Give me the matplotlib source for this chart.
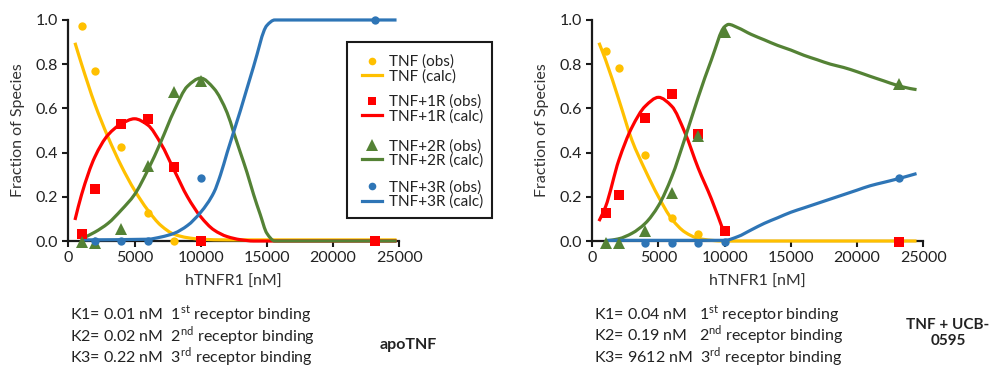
import numpy as np
import matplotlib
matplotlib.use("Agg")
import matplotlib.pyplot as plt
from matplotlib.patches import Rectangle, PathPatch
from matplotlib.path import Path
from matplotlib.lines import Line2D
from matplotlib.legend import Legend

plt.rcParams['font.family'] = ['Lato', 'DejaVu Sans']
plt.rcParams['mathtext.fontset'] = 'custom'
plt.rcParams['mathtext.rm'] = 'Lato'

# ---- observed points (hTNFR1 nM, fraction) ----
# apoTNF panel
apo_tnf_x = [1000, 2000, 4000, 6000, 8000]
apo_tnf_y = [0.974, 0.77, 0.425, 0.125, 0.0]
apo_1r_x = [1000, 2000, 4000, 6000, 8000, 10000, 23200]
apo_1r_y = [0.03, 0.235, 0.53, 0.55, 0.335, 0.0, 0.0]
apo_2r_x = [1000, 2000, 4000, 6000, 8000, 10000]
apo_2r_y = [-0.005, -0.01, 0.055, 0.34, 0.675, 0.725]
apo_3r_x = [2000, 4000, 6000, 10000, 23200]
apo_3r_y = [0.0, 0.0, 0.0, 0.285, 1.0]

# TNF + UCB-0595 panel
ucb_tnf_x = [1000, 2000, 4000, 6000, 8000]
ucb_tnf_y = [0.86, 0.785, 0.39, 0.105, 0.03]
ucb_1r_x = [1000, 2000, 4000, 6000, 8000, 10000, 23200]
ucb_1r_y = [0.125, 0.21, 0.555, 0.665, 0.485, 0.045, -0.005]
ucb_2r_x = [1000, 2000, 4000, 6000, 8000, 10000, 23200]
ucb_2r_y = [-0.01, -0.01, 0.045, 0.215, 0.475, 0.945, 0.71]
ucb_3r_x = [4000, 6000, 8000, 10000, 23200]
ucb_3r_y = [-0.01, -0.01, -0.01, -0.005, 0.285]

# ---- calculated curves ----
apo_tnf_cx = [500, 1000, 2000, 3000, 4000, 5000, 6000, 7000, 8000, 9000, 10000, 12000, 24800]
apo_tnf_cy = [0.897, 0.80, 0.62, 0.47, 0.34, 0.23, 0.14, 0.07, 0.03, 0.015, 0.008, 0.005, 0.005]
apo_1r_cx = [500, 1000, 2000, 3000, 4000, 5000, 6000, 7000, 8000, 9000, 10000, 11000, 12000, 13000, 14000, 24800]
apo_1r_cy = [0.095, 0.21, 0.38, 0.48, 0.53, 0.553, 0.525, 0.44, 0.32, 0.20, 0.11, 0.05, 0.02, 0.006, 0.0, 0.0]
apo_2r_cx = [1000, 2000, 3000, 4000, 5000, 6000, 7000, 8000, 9000, 10000, 11000,
             12000, 12500, 13000, 13500, 14000, 14500, 15000, 15600, 24800]
apo_2r_cy = [0.01, 0.04, 0.08, 0.14, 0.21, 0.32, 0.45, 0.59, 0.70, 0.737, 0.69,
             0.58, 0.49, 0.40, 0.31, 0.21, 0.12, 0.035, 0.0, 0.0]
apo_3r_cx = [1000, 6000, 7000, 8000, 9000, 10000, 11000, 11500, 12000, 13000, 14000, 15000, 15600, 24800]
apo_3r_cy = [0.005, 0.008, 0.018, 0.035, 0.07, 0.13, 0.22, 0.30, 0.40, 0.59, 0.79, 0.975, 1.0, 1.0]

ucb_tnf_cx = [500, 1000, 2000, 3000, 4000, 5000, 6000, 7000, 8000, 9000, 10000, 24500]
ucb_tnf_cy = [0.897, 0.82, 0.64, 0.455, 0.32, 0.20, 0.10, 0.04, 0.012, 0.003, 0.0, 0.0]
ucb_1r_cx = [500, 1000, 2000, 3000, 4000, 5000, 6000, 7000, 8000, 9000, 10000]
ucb_1r_cy = [0.09, 0.155, 0.365, 0.515, 0.61, 0.65, 0.61, 0.49, 0.33, 0.19, 0.03]
ucb_2r_cx = [1000, 2000, 3000, 4000, 5000, 6000, 7000, 8000, 9000, 10000, 10300, 11000, 12000, 13000,
             14000, 15000, 16000, 17000, 18000, 19000, 20000, 21000, 22000, 23000, 24000, 24500]
ucb_2r_cy = [0.0, 0.01, 0.035, 0.08, 0.16, 0.29, 0.465, 0.65, 0.82, 0.97, 0.98, 0.965, 0.935, 0.91,
             0.885, 0.864, 0.84, 0.82, 0.80, 0.785, 0.766, 0.745, 0.725, 0.705, 0.69, 0.685]
ucb_3r_cx = [1000, 10000, 11000, 12000, 13000, 14000, 15000, 16000, 17000, 18000, 19000, 20000,
             21000, 22000, 23000, 24500]
ucb_3r_cy = [0.003, 0.003, 0.02, 0.05, 0.08, 0.105, 0.13, 0.15, 0.17, 0.19, 0.21, 0.23,
             0.25, 0.265, 0.28, 0.305]

colors = ['#FFC000', '#FF0000', '#548235', '#2E75B6']
markers = ['o', 's', '^', 'o']
msizes = [6, 6.5, 8.5, 6]
names = ['TNF', 'TNF+1R', 'TNF+2R', 'TNF+3R']

apo_obs = [(apo_tnf_x, apo_tnf_y), (apo_1r_x, apo_1r_y), (apo_2r_x, apo_2r_y), (apo_3r_x, apo_3r_y)]
apo_calc = [(apo_tnf_cx, apo_tnf_cy), (apo_1r_cx, apo_1r_cy), (apo_2r_cx, apo_2r_cy), (apo_3r_cx, apo_3r_cy)]
ucb_obs = [(ucb_tnf_x, ucb_tnf_y), (ucb_1r_x, ucb_1r_y), (ucb_2r_x, ucb_2r_y), (ucb_3r_x, ucb_3r_y)]
ucb_calc = [(ucb_tnf_cx, ucb_tnf_cy), (ucb_1r_cx, ucb_1r_cy), (ucb_2r_cx, ucb_2r_cy), (ucb_3r_cx, ucb_3r_cy)]


def smooth_path(x, y):
    # smoothed line like Excel: cubic bezier segments, monotone tangents (no overshoot)
    x = np.asarray(x, float)
    y = np.asarray(y, float)
    h = np.diff(x)
    d = np.diff(y) / h
    m = np.zeros(len(x))
    m[0], m[-1] = d[0], d[-1]
    for i in range(1, len(x) - 1):
        if d[i - 1] * d[i] <= 0:
            m[i] = 0.0
        else:
            w1 = 2 * h[i] + h[i - 1]
            w2 = h[i] + 2 * h[i - 1]
            m[i] = (w1 + w2) / (w1 / d[i - 1] + w2 / d[i])
    verts = [(x[0], y[0])]
    codes = [Path.MOVETO]
    for i in range(len(x) - 1):
        verts += [(x[i] + h[i] / 3, y[i] + m[i] * h[i] / 3),
                  (x[i + 1] - h[i] / 3, y[i + 1] - m[i + 1] * h[i] / 3),
                  (x[i + 1], y[i + 1])]
        codes += [Path.CURVE4] * 3
    return Path(verts, codes)


def draw_panel(ax, obs, calc):
    for i in range(4):
        cx, cy = calc[i]
        ax.add_patch(PathPatch(smooth_path(cx, cy), fill=False, ec=colors[i], lw=2.3,
                               capstyle='butt', zorder=2, clip_on=False))
    for i in range(4):
        ox, oy = obs[i]
        ax.plot(ox, oy, ls='none', marker=markers[i], ms=msizes[i], color=colors[i],
                mew=0, zorder=3, clip_on=False)
    ax.set_xlim(0, 25000)
    ax.set_ylim(0, 1.0)
    ax.set_xticks(np.arange(0, 25001, 5000))
    ax.set_yticks(np.arange(0, 1.01, 0.2))
    ax.set_yticklabels(['%.1f' % v for v in np.arange(0, 1.01, 0.2)])
    for s in ['top', 'right']:
        ax.spines[s].set_visible(False)
    for s in ['left', 'bottom']:
        ax.spines[s].set_linewidth(1.6)
        ax.spines[s].set_color('#1a1a1a')
        ax.spines[s].set_zorder(1)
    ax.tick_params(direction='out', length=4.5, width=1.5, labelsize=11.5, colors='#1a1a1a',
                   labelcolor='#222222', pad=3)
    ax.set_xlabel('hTNFR1 [nM]', fontsize=11.5, color='#333333')
    ax.set_ylabel('Fraction of Species', fontsize=11.5, color='#333333')
    ax.xaxis.set_label_coords(0.5, -0.155)
    ax.yaxis.set_label_coords(-0.132, 0.5)


fig = plt.figure(figsize=(9.92, 3.68), dpi=100)
ax1 = fig.add_axes([0.0689, 0.3451, 0.3335, 0.6006])
ax2 = fig.add_axes([0.5971, 0.3451, 0.3335, 0.6006])
draw_panel(ax1, apo_obs, apo_calc)
draw_panel(ax2, ucb_obs, ucb_calc)

# legend: 4 groups inside one black frame
ax1.add_patch(Rectangle((0.842, 0.104), 0.438, 0.796, transform=ax1.transAxes, fill=False,
                        lw=1.5, ec='#1a1a1a', clip_on=False, zorder=5))
group_y = [0.778, 0.597, 0.396, 0.210]
for i in range(4):
    h_obs = Line2D([], [], ls='none', marker=markers[i], ms=msizes[i] - 0.5, color=colors[i], mew=0)
    h_calc = Line2D([], [], color=colors[i], lw=2.3)
    leg = Legend(ax1, [h_obs, h_calc], [names[i] + ' (obs)', names[i] + ' (calc)'],
                 loc='center left', bbox_to_anchor=(0.887, group_y[i]), frameon=False,
                 fontsize=11, handlelength=1.3, handletextpad=0.5, labelspacing=0.0,
                 borderpad=0, borderaxespad=0)
    for t in leg.get_texts():
        t.set_color('#222222')
    ax1.add_artist(leg)

# constants below the panels
apo_lines = ['K1= 0.01 nM  1$^{\\mathrm{st}}$ receptor binding',
             'K2= 0.02 nM  2$^{\\mathrm{nd}}$ receptor binding',
             'K3= 0.22 nM  3$^{\\mathrm{rd}}$ receptor binding']
ucb_lines = ['K1= 0.04 nM   1$^{\\mathrm{st}}$ receptor binding',
             'K2= 0.19 nM   2$^{\\mathrm{nd}}$ receptor binding',
             'K3= 9612 nM  3$^{\\mathrm{rd}}$ receptor binding']
apo_ys = [314.5, 336, 357.5]
ucb_ys = [314, 335.5, 357]
for txt, yp in zip(apo_lines, apo_ys):
    fig.text(70 / 992, 1 - yp / 368, txt, fontsize=11.5, va='center', ha='left', color='#222222')
for txt, yp in zip(ucb_lines, ucb_ys):
    fig.text(594 / 992, 1 - yp / 368, txt, fontsize=11.5, va='center', ha='left', color='#222222')

fig.text(408 / 992, 1 - 345 / 368, 'apoTNF', fontsize=11.5, fontweight='bold', ha='center',
         va='center', color='#222222')
fig.text(948 / 992, 1 - 333 / 368, 'TNF + UCB-\n0595', fontsize=11, fontweight='bold',
         ha='center', va='center', linespacing=1.25, color='#222222')

fig.savefig('out.png', dpi=100)
